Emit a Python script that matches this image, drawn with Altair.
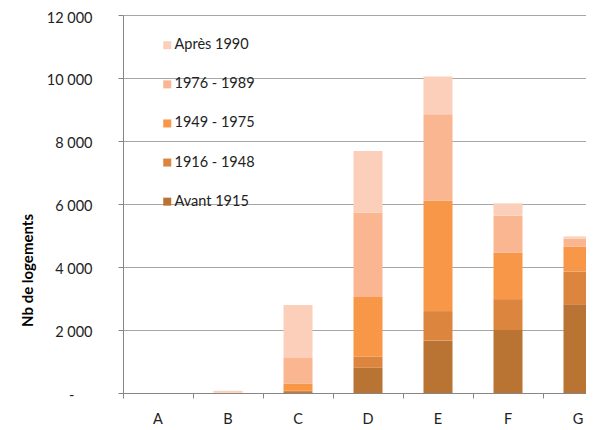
import altair as alt
import pandas as pd

categories = ["A", "B", "C", "D", "E", "F", "G"]
periods = ["Avant 1915", "1916 - 1948", "1949 - 1975", "1976 - 1989", "Après 1990"]
avant_1915 = [0, 0, 30, 800, 1670, 2000, 2820]
p1916_1948 = [0, 0, 40, 360, 930, 980, 1040]
p1949_1975 = [0, 0, 220, 1890, 3500, 1480, 790]
p1976_1989 = [0, 10, 820, 2670, 2750, 1170, 250]
apres_1990 = [0, 60, 1680, 1960, 1200, 390, 70]
colors = ["#B97333", "#DC853E", "#F79747", "#F9B690", "#FBCFB9"]
y_ticks = [0, 2000, 4000, 6000, 8000, 10000, 12000]

series = [avant_1915, p1916_1948, p1949_1975, p1976_1989, apres_1990]
rows = []
for k, (per, vals) in enumerate(zip(periods, series)):
    for c, v in zip(categories, vals):
        rows.append({"cat": c, "period": per, "ord": k, "value": v})
df = pd.DataFrame(rows)

FONT = "Lato"
FS = 14.5

chart = alt.Chart(df).mark_bar(size=29).encode(
    x=alt.X(
        "cat:N",
        sort=categories,
        title=None,
        scale=alt.Scale(paddingInner=0, paddingOuter=0, range=[0, 490]),
        axis=alt.Axis(
            bandPosition=0,
            labelAngle=0,
            labelPadding=14,
            tickSize=5,
            tickColor="#868686",
            domainColor="#868686",
            labelFont=FONT,
            labelFontSize=FS,
            labelColor="#222222",
            grid=False,
        ),
    ),
    y=alt.Y(
        "value:Q",
        stack="zero",
        scale=alt.Scale(domain=[0, 12000], nice=False),
        title="Nb de logements",
        axis=alt.Axis(
            values=y_ticks,
            labelExpr="datum.value == 0 ? '-' : replace(format(datum.value, ','), ',', ' ')",
            labelFont=FONT,
            labelFontSize=FS,
            labelColor="#222222",
            labelPadding={"condition": {"test": "datum.value == 0", "value": 44}, "value": 26},
            labelOffset={"condition": {"test": "datum.value == 12000", "value": 3}, "value": 2},
            tickSize=5,
            tickColor="#868686",
            domainColor="#868686",
            gridColor="#a6a6a6",
            titleFont=FONT,
            titleFontSize=15,
            titleFontWeight="bold",
            titleColor="#000000",
            titleX=-96,
            titleY=255,
            titleAlign="center",
            titleBaseline="middle",
            titleAngle=270,
        ),
    ),
    color=alt.Color(
        "period:N",
        scale=alt.Scale(domain=periods[::-1], range=colors[::-1]),
        legend=alt.Legend(
            title=None,
            orient="none",
            legendX=37,
            legendY=23,
            padding=0,
            symbolType="square",
            symbolSize=64,
            symbolStrokeWidth=0,
            labelFont=FONT,
            labelFontSize=FS,
            labelColor="#222222",
            labelOffset=0,
            rowPadding=24.1,
        ),
    ),
    order=alt.Order("ord:Q", sort="ascending"),
).properties(
    width=463,
    height=378,
    autosize=alt.AutoSizeParams(type="none"),
    padding={"left": 115, "top": 7, "right": 0, "bottom": 37},
).configure_view(stroke=None)

chart.save("out.html", embed_options={"renderer": "svg", "actions": False})
